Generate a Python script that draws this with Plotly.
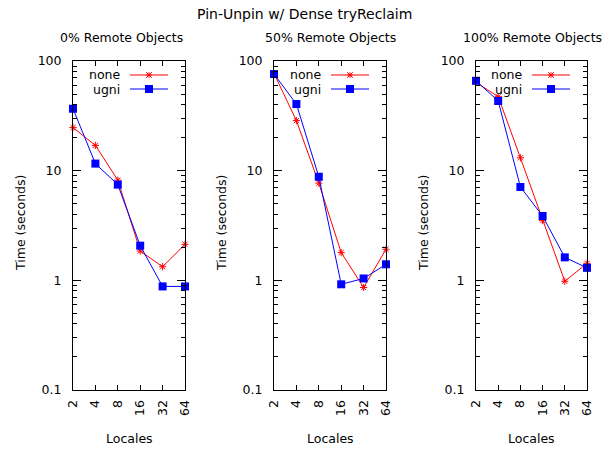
import math
import plotly.graph_objects as go

W, H = 613, 453

locales = [2, 4, 8, 16, 32, 64]
tick_labels = ["2", "4", "8", "16", "32", "64"]
panel_titles = ["0% Remote Objects", "50% Remote Objects", "100% Remote Objects"]
series_names = ["none", "ugni"]

none_0 = [24.7, 17.0, 8.2, 1.85, 1.33, 2.13]
ugni_0 = [36.7, 11.6, 7.46, 2.07, 0.88, 0.88]
none_50 = [77, 28.6, 7.7, 1.79, 0.86, 1.92]
ugni_50 = [76, 40.5, 8.8, 0.92, 1.04, 1.40]
none_100 = [63.9, 47.3, 13.1, 3.5, 0.98, 1.43]
ugni_100 = [66, 43.2, 7.1, 3.86, 1.62, 1.30]

panels = [(none_0, ugni_0), (none_50, ugni_50), (none_100, ugni_100)]

# pixel layout
lefts = [73, 274, 476]
rights = [185, 386, 587]
top, bottom = 61, 390
sub_cx = [121, 330, 532]

def px(x):
    return x / W

def py(y):
    return 1 - y / H

FONT = "DejaVu Sans"
RED = "#ff0000"
BLUE = "#0000ff"

fig = go.Figure()
layout = dict(
    template="none",
    width=W, height=H,
    margin=dict(l=0, r=0, t=0, b=0, pad=0),
    paper_bgcolor="white", plot_bgcolor="white",
    showlegend=False,
    font=dict(family=FONT, size=12, color="black"),
)

minor_vals = [k * 10 ** e for e in (-1, 0, 1) for k in range(2, 10)]
annotations = []
shapes = []

annotations.append(dict(text="Pin-Unpin w/ Dense tryReclaim", x=px(304), y=py(14),
                        xref="paper", yref="paper", showarrow=False,
                        font=dict(size=14), xanchor="center", yanchor="middle"))

xr = [math.log10(locales[0]) - 1e-6, math.log10(locales[-1]) + 1e-6]

for i, (nv, uv) in enumerate(panels):
    ax = "" if i == 0 else str(i + 1)
    xa, ya = "x" + ax, "y" + ax
    fig.add_trace(go.Scatter(x=locales, y=nv, name=series_names[0], xaxis=xa, yaxis=ya,
                             mode="lines+markers", cliponaxis=False,
                             line=dict(color=RED, width=1),
                             marker=dict(symbol="asterisk-open", size=6,
                                         line=dict(color=RED, width=1), color=RED)))
    fig.add_trace(go.Scatter(x=locales, y=uv, name=series_names[1], xaxis=xa, yaxis=ya,
                             mode="lines+markers", cliponaxis=False,
                             line=dict(color=BLUE, width=1),
                             marker=dict(symbol="square", size=8, color=BLUE)))
    layout["xaxis" + ax] = dict(
        domain=[px(lefts[i]), px(rights[i])], anchor=ya, type="log", automargin=False,
        range=xr, tickvals=locales, ticktext=tick_labels,
        tickangle=-90, ticks="inside", ticklen=5, tickcolor="black", tickwidth=1,
        showline=True, linecolor="black", linewidth=1, mirror="allticks",
        showgrid=False, zeroline=False, ticklabelstandoff=4,
        tickfont=dict(size=12.5),
    )
    layout["yaxis" + ax] = dict(
        domain=[py(bottom), py(top)], anchor=xa, type="log", automargin=False,
        range=[-1, 2], tickvals=[0.1, 1, 10, 100], ticktext=["0.1", "1", "10", "100"],
        ticks="inside", ticklen=8, tickcolor="black", tickwidth=1,
        minor=dict(ticks="inside", ticklen=4, tickcolor="black", tickvals=minor_vals, showgrid=False),
        showline=True, linecolor="black", linewidth=1, mirror="allticks",
        showgrid=False, zeroline=False, ticklabelstandoff=8,
        tickfont=dict(size=12.5),
    )
    annotations.append(dict(text=panel_titles[i], x=px(sub_cx[i]), y=py(38),
                            xref="paper", yref="paper", showarrow=False,
                            font=dict(size=12.5), xanchor="center", yanchor="middle"))
    annotations.append(dict(text="Time (seconds)", x=px(lefts[i] - 53), y=py(223),
                            xref="paper", yref="paper", showarrow=False, textangle=-90,
                            font=dict(size=12.5), xanchor="center", yanchor="middle"))
    annotations.append(dict(text="Locales", x=px((lefts[i] + rights[i]) / 2), y=py(438),
                            xref="paper", yref="paper", showarrow=False,
                            font=dict(size=12.5), xanchor="center", yanchor="middle"))
    # legend (gnuplot style: text, then sample line with marker)
    r = rights[i]
    for j, (name, col) in enumerate(zip(series_names, [RED, BLUE])):
        yy = 75 + 14 * j
        annotations.append(dict(text=name, x=px(r - 63), y=py(yy), xref="paper", yref="paper",
                                showarrow=False, font=dict(size=12.5),
                                xanchor="right", yanchor="middle"))
        shapes.append(dict(type="line", xref="paper", yref="paper",
                           x0=px(r - 55), x1=px(r - 17), y0=py(yy), y1=py(yy),
                           line=dict(color=col, width=1)))
        cx = r - 36
        if j == 0:
            s = 2.8
            for dx, dy in [(s, 0), (0, s), (s, s), (s, -s)]:
                shapes.append(dict(type="line", xref="paper", yref="paper",
                                   x0=px(cx - dx), x1=px(cx + dx), y0=py(yy - dy), y1=py(yy + dy),
                                   line=dict(color=col, width=1)))
        else:
            shapes.append(dict(type="rect", xref="paper", yref="paper",
                               x0=px(cx - 4), x1=px(cx + 4), y0=py(yy - 4), y1=py(yy + 4),
                               fillcolor=col, line=dict(width=0)))

layout["annotations"] = annotations
layout["shapes"] = shapes
fig.update_layout(**layout)
fig.write_html("out.html", config={"displayModeBar": False, "staticPlot": True},
               post_script="document.body.style.margin='0px';document.body.style.overflow='hidden';")
